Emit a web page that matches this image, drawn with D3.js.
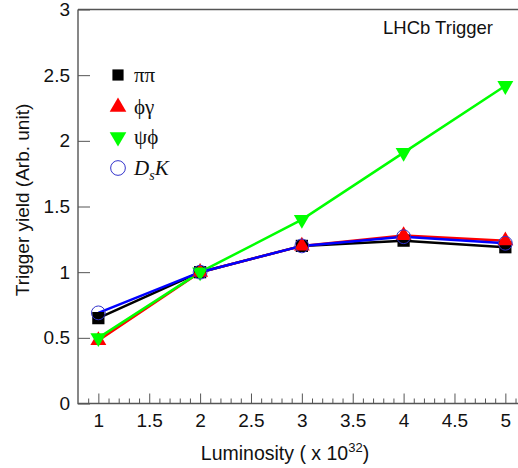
<!DOCTYPE html>
<html><head><meta charset="utf-8">
<script src="https://cdn.jsdelivr.net/npm/d3@7"></script>
<style>body{margin:0;background:#fff}svg{display:block}</style>
</head><body>
<svg id="c" width="518" height="468"></svg>
<script>
const lumi = [1, 2, 3, 4, 5];
const pipi = [0.65, 1.0, 1.2, 1.24, 1.19];
const phigamma = [0.48, 1.0, 1.2, 1.28, 1.24];
const psiphi = [0.5, 1.0, 1.4, 1.91, 2.42];
const dsk = [0.69, 1.0, 1.2, 1.27, 1.22];
const xTicks = [1, 1.5, 2, 2.5, 3, 3.5, 4, 4.5, 5];
const yTicks = [0, 0.5, 1, 1.5, 2, 2.5, 3];

const FONT = "Liberation Sans, Arial, Helvetica, sans-serif";
const svg = d3.select("#c");
const x = d3.scaleLinear().domain([0.8, 5.2]).range([78, 525.7]);
const y = d3.scaleLinear().domain([0, 3]).range([403.5, 9.5]);

// frame
svg.append("path").attr("d", `M${x(0.8)},${y(3)}H540M${x(0.8)},${y(3)}V${y(0)}H540`)
  .attr("fill","none").attr("stroke","#555").attr("stroke-width",1.4);

// x axis ticks (inward)
const minor = d3.range(0.9, 5.2, 0.1).map(v => +v.toFixed(2));
const xa = svg.append("g").attr("transform",`translate(0,${y(0)})`)
  .call(d3.axisTop(x).tickValues(minor).tickSize(5).tickFormat(""));
xa.select(".domain").remove();
xa.selectAll(".tick line").attr("stroke","#555")
  .attr("y2", d => (Math.abs(d*2 - Math.round(d*2)) < 1e-6) ? -10 : -5);
const xl = svg.append("g").attr("transform",`translate(0,${y(0)})`)
  .call(d3.axisBottom(x).tickValues(xTicks).tickSize(0).tickPadding(10).tickFormat(d3.format("")));
xl.select(".domain").remove();
xl.selectAll("text").attr("font-family",FONT).attr("font-size",19).attr("fill","#111");

// y axis
const ya = svg.append("g").attr("transform",`translate(${x(0.8)},0)`)
  .call(d3.axisRight(y).tickValues(yTicks).tickSize(12).tickFormat(""));
ya.select(".domain").remove();
ya.selectAll(".tick line").attr("stroke","#555");
const yl = svg.append("g").attr("transform",`translate(${x(0.8)},0)`)
  .call(d3.axisLeft(y).tickValues(yTicks).tickSize(0).tickPadding(8).tickFormat(d3.format("")));
yl.select(".domain").remove();
yl.selectAll("text").attr("font-family",FONT).attr("font-size",19).attr("fill","#111");

// titles
svg.append("text").attr("transform","translate(29,200) rotate(-90)").attr("text-anchor","middle")
  .attr("font-family",FONT).attr("font-size",19).attr("fill","#111")
  .text("Trigger yield (Arb. unit)");
const xt = svg.append("text").attr("x",285).attr("y",460).attr("text-anchor","middle")
  .attr("font-family",FONT).attr("font-size",19.5).attr("fill","#111");
xt.append("tspan").text("Luminosity ( x 10");
xt.append("tspan").attr("dy",-8).attr("font-size",13).text("32");
xt.append("tspan").attr("dy",8).text(")");
svg.append("text").attr("x",383).attr("y",34).attr("font-family",FONT)
  .attr("font-size",18.5).attr("fill","#111").text("LHCb Trigger");

const series = [
  {vals: pipi, color:"#000", sym: d3.symbolSquare, size: 150, fill:"#000", stroke:"none"},
  {vals: phigamma, color:"#f00", sym: d3.symbolTriangle, size: 110, fill:"#f00", stroke:"none"},
  {vals: psiphi, color:"#0f0", sym: d3.symbolTriangle, size: 110, fill:"#0f0", stroke:"none", rot:180},
  {vals: dsk, color:"#00f", sym: d3.symbolCircle, size: 150, fill:"none", stroke:"#33c"}
];
const line = d3.line().x((d,i)=>x(lumi[i])).y(d=>y(d));
series.forEach(s => {
  svg.append("path").attr("d", line(s.vals)).attr("fill","none").attr("stroke", s.color).attr("stroke-width",2.5);
});
series.forEach(s => {
  const sy = d3.symbol().type(s.sym).size(s.size);
  svg.append("g").selectAll("path").data(s.vals).join("path")
    .attr("d", sy)
    .attr("transform",(d,i)=>`translate(${x(lumi[i])},${y(d)}) rotate(${s.rot||0})`)
    .attr("fill", s.fill).attr("stroke", s.stroke).attr("stroke-width",1);
});

// legend
const legNames = [
  [{t:"ππ"}],
  [{t:"\u03D5γ"}],
  [{t:"ψ\u03D5"}],
  [{t:"D",i:true},{t:"s",i:true,sub:true},{t:"K",i:true}]
];
const legY = [75, 107, 137, 168];
const legSize = [125, 120, 120, 170];
series.forEach((s,k) => {
  const sy = d3.symbol().type(s.sym).size(legSize[k]);
  svg.append("path").attr("d", sy).attr("transform",`translate(118,${legY[k]}) rotate(${s.rot||0})`)
    .attr("fill", s.fill).attr("stroke", s.stroke).attr("stroke-width",1);
  const t = svg.append("text").attr("x",134).attr("y",legY[k]+7)
    .attr("font-family","Liberation Serif, Times New Roman, serif").attr("font-size",21).attr("fill","#111");
  legNames[k].forEach(p => {
    const ts = t.append("tspan").text(p.t);
    if (p.i) ts.attr("font-style","italic");
    if (p.sub) ts.attr("font-size",14).attr("dy",5);
    else if (p.t==="K") ts.attr("dy",-5);
  });
});
</script>
</body></html>
